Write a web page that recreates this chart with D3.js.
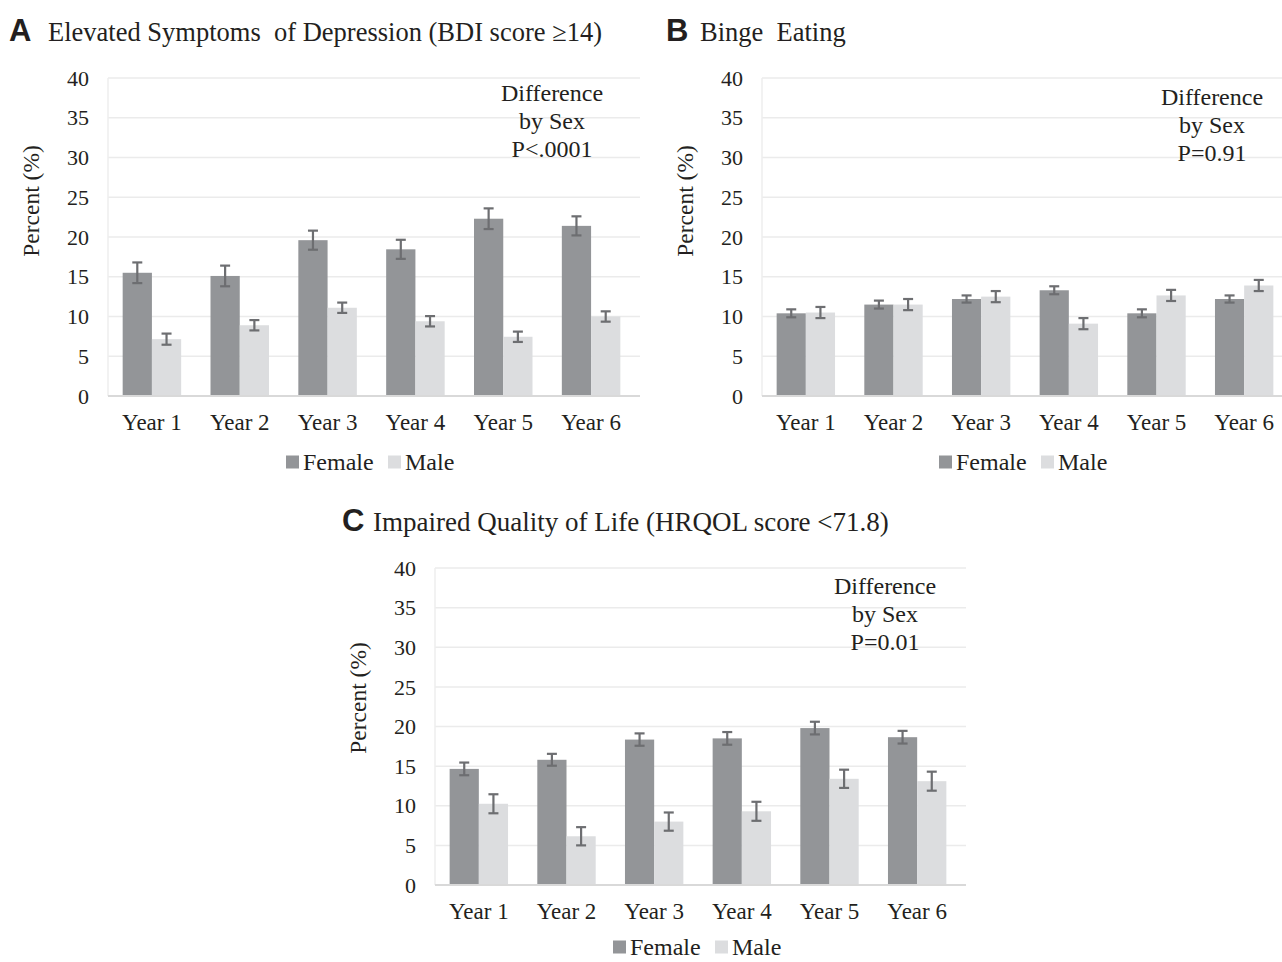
<!DOCTYPE html>
<html>
<head>
<meta charset="utf-8">
<script src="https://cdn.jsdelivr.net/npm/d3@7"></script>
<style>
  body { margin: 0; background: #fff; }
  svg text { font-family: "Liberation Serif", "Times New Roman", serif; fill: #231f20; }
  svg text.letter { font-family: "Liberation Sans", Arial, sans-serif; font-weight: bold; }
  .grid line { stroke: #ebebeb; stroke-width: 1.5; }
</style>
</head>
<body>
<svg width="1282" height="962"></svg>
<script>
const years = ["Year 1", "Year 2", "Year 3", "Year 4", "Year 5", "Year 6"]
const yTicks = [0, 5, 10, 15, 20, 25, 30, 35, 40]
const seriesNames = ["Female", "Male"]

// A: depression
const femaleA = [15.5, 15.1, 19.6, 18.45, 22.3, 21.4]
const maleA = [7.15, 8.9, 11.1, 9.4, 7.45, 10.0]
const femaleErrA = [1.3, 1.3, 1.2, 1.2, 1.3, 1.2]
const maleErrA = [0.7, 0.65, 0.65, 0.65, 0.65, 0.65]

// B: binge eating
const femaleB = [10.4, 11.5, 12.2, 13.3, 10.4, 12.2]
const maleB = [10.5, 11.5, 12.5, 9.1, 12.65, 13.9]
const femaleErrB = [0.5, 0.5, 0.45, 0.5, 0.5, 0.45]
const maleErrB = [0.7, 0.7, 0.7, 0.7, 0.7, 0.7]

// C: quality of life
const femaleC = [14.65, 15.8, 18.35, 18.5, 19.8, 18.65]
const maleC = [10.25, 6.15, 8.0, 9.3, 13.4, 13.1]
const femaleErrC = [0.8, 0.75, 0.78, 0.8, 0.8, 0.8]
const maleErrC = [1.2, 1.15, 1.15, 1.2, 1.15, 1.2]

const colors = { Female: "#939598", Male: "#dcdddf" }
const errColor = "#6d6e71"

const svg = d3.select("svg")

function drawPanel(p) {
  const g = svg.append("g")

  const x = d3.scaleBand().domain(years).range([p.x0, p.x1]).paddingInner(0.334).paddingOuter(0.167)
  const xs = d3.scaleBand().domain(seriesNames).range([0, x.bandwidth()])
  const y = d3.scaleLinear().domain([0, 40]).range([p.yBottom, p.yTop])

  // gridlines
  g.append("g")
    .attr("class", "grid")
    .selectAll("line")
    .data(yTicks.slice(1))
    .enter()
    .append("line")
    .attr("x1", p.x0)
    .attr("x2", p.gridEnd)
    .attr("y1", d => y(d))
    .attr("y2", d => y(d))

  // left axis line, very light
  g.append("line")
    .attr("x1", p.x0).attr("x2", p.x0)
    .attr("y1", y(40)).attr("y2", y(0))
    .attr("stroke", "#eeeeee").attr("stroke-width", 1.5)

  // y tick labels
  g.selectAll("text.ytick")
    .data(yTicks)
    .enter()
    .append("text")
    .attr("class", "ytick")
    .attr("x", p.x0 - 19)
    .attr("y", d => y(d))
    .attr("dy", "0.35em")
    .attr("text-anchor", "end")
    .style("font-size", "22px")
    .text(d => d)

  const rows = years.map((yr, i) => ({
    year: yr,
    vals: [
      { s: "Female", v: p.female[i], e: p.femaleErr[i] },
      { s: "Male", v: p.male[i], e: p.maleErr[i] }
    ]
  }))

  const groups = g.selectAll("g.year")
    .data(rows)
    .enter()
    .append("g")
    .attr("class", "year")
    .attr("transform", d => `translate(${x(d.year)},0)`)

  groups.selectAll("rect")
    .data(d => d.vals)
    .enter()
    .append("rect")
    .attr("x", d => xs(d.s))
    .attr("y", d => y(d.v))
    .attr("width", xs.bandwidth())
    .attr("height", d => y(0) - y(d.v))
    .attr("fill", d => colors[d.s])

  // baseline
  g.append("line")
    .attr("x1", p.x0).attr("x2", p.gridEnd)
    .attr("y1", y(0)).attr("y2", y(0))
    .attr("stroke", "#d9d9d9").attr("stroke-width", 2)

  // error bars
  const err = groups.selectAll("g.err")
    .data(d => d.vals)
    .enter()
    .append("g")
    .attr("class", "err")
    .attr("stroke", errColor)
    .attr("stroke-width", 2.2)
  const cx = d => xs(d.s) + xs.bandwidth() / 2
  err.append("line")
    .attr("x1", cx).attr("x2", cx)
    .attr("y1", d => y(d.v + d.e))
    .attr("y2", d => y(d.v - d.e))
  err.append("line")
    .attr("x1", d => cx(d) - 5).attr("x2", d => cx(d) + 5)
    .attr("y1", d => y(d.v + d.e))
    .attr("y2", d => y(d.v + d.e))
  err.append("line")
    .attr("x1", d => cx(d) - 5).attr("x2", d => cx(d) + 5)
    .attr("y1", d => y(d.v - d.e))
    .attr("y2", d => y(d.v - d.e))

  // x labels
  g.selectAll("text.xlab")
    .data(years)
    .enter()
    .append("text")
    .attr("class", "xlab")
    .attr("x", d => x(d) + x.bandwidth() / 2)
    .attr("y", y(0) + 34)
    .attr("text-anchor", "middle")
    .style("font-size", "23px")
    .text(d => d)

  // y axis title
  g.append("text")
    .attr("transform", `translate(${p.x0 - 69},${p.labelY}) rotate(-90)`)
    .attr("text-anchor", "middle")
    .style("font-size", "23.5px")
    .text("Percent (%)")

  // panel title
  g.append("text")
    .attr("class", "letter")
    .attr("x", p.titleX)
    .attr("y", p.titleY)
    .style("font-size", "31px")
    .text(p.letter)
  g.append("text")
    .attr("x", p.titleTextX)
    .attr("y", p.titleY)
    .style("font-size", p.titleSize + "px")
    .attr("xml:space", "preserve")
    .text(p.title)

  // annotation
  g.selectAll("text.note")
    .data(p.note)
    .enter()
    .append("text")
    .attr("class", "note")
    .attr("x", p.noteX)
    .attr("y", (d, i) => y(40) + p.noteOff + i * 28)
    .attr("text-anchor", "middle")
    .style("font-size", "24px")
    .text(d => d)

  // legend
  const leg = g.append("g").attr("transform", `translate(${p.legendX},${y(0) + p.legendOff})`)
  leg.append("rect").attr("x", 0).attr("y", -6.5).attr("width", 13).attr("height", 13).attr("fill", colors.Female)
  leg.append("text").attr("x", 17).attr("y", 0).attr("dy", "0.33em").style("font-size", "24px").text("Female")
  leg.append("rect").attr("x", 102).attr("y", -6.5).attr("width", 13).attr("height", 13).attr("fill", colors.Male)
  leg.append("text").attr("x", 119).attr("y", 0).attr("dy", "0.33em").style("font-size", "24px").text("Male")
}

drawPanel({
  letter: "A", title: "Elevated Symptoms  of Depression (BDI score \u226514)",
  titleX: 9, titleTextX: 48, titleY: 41, titleSize: 26.5,
  x0: 108, x1: 635, gridEnd: 640, yTop: 78, yBottom: 396, labelY: 201,
  female: femaleA, male: maleA, femaleErr: femaleErrA, maleErr: maleErrA,
  note: ["Difference", "by Sex", "P<.0001"], noteX: 552, noteOff: 23, legendX: 286, legendOff: 66
})

drawPanel({
  letter: "B", title: "Binge  Eating",
  titleX: 666, titleTextX: 700, titleY: 41, titleSize: 26.5,
  x0: 762, x1: 1288, gridEnd: 1282, yTop: 78, yBottom: 396, labelY: 201,
  female: femaleB, male: maleB, femaleErr: femaleErrB, maleErr: maleErrB,
  note: ["Difference", "by Sex", "P=0.91"], noteX: 1212, noteOff: 27, legendX: 939, legendOff: 66
})

drawPanel({
  letter: "C", title: "Impaired Quality of Life (HRQOL score <71.8)",
  titleX: 342, titleTextX: 373, titleY: 531, titleSize: 27,
  x0: 435, x1: 961, gridEnd: 966, yTop: 568, yBottom: 885, labelY: 698,
  female: femaleC, male: maleC, femaleErr: femaleErrC, maleErr: maleErrC,
  note: ["Difference", "by Sex", "P=0.01"], noteX: 885, noteOff: 26, legendX: 613, legendOff: 62
})
</script>
</body>
</html>
